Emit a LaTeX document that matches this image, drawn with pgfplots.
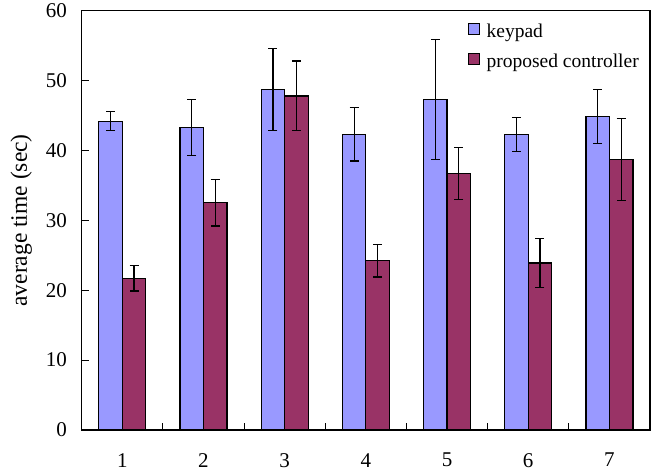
\documentclass[border=0pt]{standalone}
\usepackage{pgfplots}
\pgfplotsset{compat=1.18}
\usepackage{fontspec}
\setmainfont{Liberation Serif}
\definecolor{kblue}{HTML}{9999FF}
\definecolor{kred}{HTML}{993366}
\begin{document}
\begin{tikzpicture}[font=\fontsize{21}{25}\selectfont]
\begin{axis}[
  scale only axis, width=568.3pt, height=419.3pt,
  xmin=0.5, xmax=7.5, ymin=0, ymax=60,
  ybar=0pt, bar width=23.5pt,
  xtick={1,...,7}, major x tick style={draw=none},
  minor x tick num=1, minor tick length=7pt,
  ytick={0,10,...,60}, ytick pos=left, tick align=inside, major tick length=7pt,
  xtick pos=bottom,
  tick style={black, line width=0.9pt},
  axis line style={line width=1.1pt},
  tick label style={font=\fontsize{21}{25}\selectfont},
  xticklabel style={inner ysep=0pt, yshift=-23pt},
  yticklabel style={inner xsep=0pt, xshift=-14.5pt},
  /pgf/number format/assume math mode=true,
  ylabel={average time (sec)},
  ylabel style={font=\fontsize{23.5}{28}\selectfont, at={(rel axis cs:0,0.5)}, anchor=base, yshift=54.7pt, inner sep=0pt},
  legend style={draw=none, fill=none, at={(rel axis cs:1,1)}, anchor=north east, xshift=-6pt, yshift=-9pt, row sep=11pt, font=\fontsize{19.5}{23}\selectfont, legend cell align=left},
  legend image code/.code={\draw[#1, line width=1pt] (0pt,-3.3pt) rectangle (11pt,7.7pt); \path (16pt,0pt);},
  every axis plot/.append style={draw=black, line width=1.2pt},
  error bars/error bar style={line width=1.2pt, black},
  error bars/error mark options={rotate=90, mark size=4.5pt, line width=1.2pt, black},
]
\addplot[fill=kblue, error bars/.cd, y dir=both, y explicit] coordinates {
  (1,44.2) +- (0,1.4)
  (2,43.3) +- (0,4.0)
  (3,48.7) +- (0,5.9)
  (4,42.3) +- (0,3.8)
  (5,47.3) +- (0,8.6)
  (6,42.3) +- (0,2.4)
  (7,44.9) +- (0,3.85)
};
\addplot[fill=kred, error bars/.cd, y dir=both, y explicit] coordinates {
  (1,21.7) +- (0,1.8)
  (2,32.5) +- (0,3.3)
  (3,47.8) +- (0,5.0)
  (4,24.2) +- (0,2.3)
  (5,36.7) +- (0,3.7)
  (6,23.9) +- (0,3.5)
  (7,38.7) +- (0,5.85)
};
\legend{keypad, proposed controller}
\coordinate (bl) at (rel axis cs:0,0);
\coordinate (tr) at (rel axis cs:1,1);
\end{axis}
\pgfresetboundingbox
\path (bl) ++(-81.7pt,-44pt);
\path (tr) ++(6pt,10.7pt);
\end{tikzpicture}
\end{document}
